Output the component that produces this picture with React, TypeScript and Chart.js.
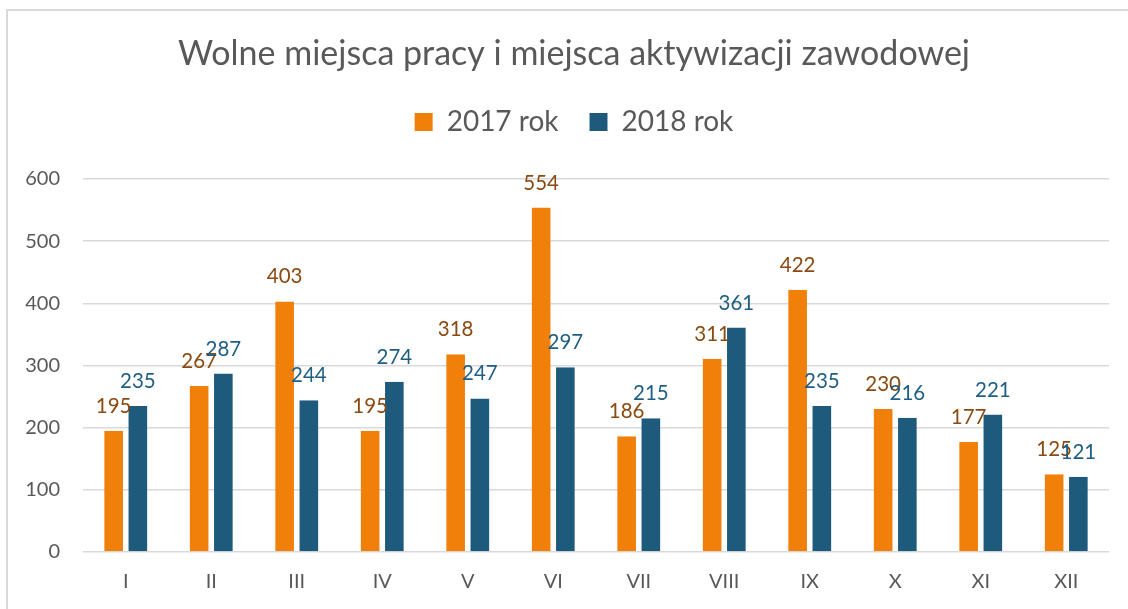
import React, { useEffect, useRef } from "react";
import { Chart, registerables } from "chart.js";

Chart.register(...registerables);

const categories = ["I", "II", "III", "IV", "V", "VI", "VII", "VIII", "IX", "X", "XI", "XII"];
const seriesNames = ["2017 rok", "2018 rok"];
const values2017 = [195, 267, 403, 195, 318, 554, 186, 311, 422, 230, 177, 125];
const values2018 = [235, 287, 244, 274, 247, 297, 215, 361, 235, 216, 221, 121];
const yTicks = [0, 100, 200, 300, 400, 500, 600];
const titleText = "Wolne miejsca pracy i miejsca aktywizacji zawodowej";

const barColors = ["#F0800A", "#1E5A7C"];
const labelColors = ["#8A4A10", "#1F5E84"];
const textColor = "#595959";
const FONT = "Lato, 'Open Sans', sans-serif";

const labelPlugin = {
  id: "barValueLabels",
  afterDatasetsDraw(chart: any) {
    const ctx = chart.ctx;
    chart.data.datasets.forEach((ds: any, i: number) => {
      const meta = chart.getDatasetMeta(i);
      meta.data.forEach((el: any, j: number) => {
        ctx.save();
        ctx.font = `20.5px ${FONT}`;
        ctx.fillStyle = labelColors[i];
        ctx.textAlign = "center";
        ctx.textBaseline = "alphabetic";
        ctx.fillText(String(ds.data[j]), el.x, el.y - 18);
        ctx.restore();
      });
    });
  },
};

export default function App() {
  const canvasRef = useRef<HTMLCanvasElement | null>(null);

  useEffect(() => {
    if (!canvasRef.current) return;
    const gapBorder = { left: 2.8, right: 2.8, top: 0, bottom: 0 };
    const chart = new Chart(canvasRef.current, {
      type: "bar",
      data: {
        labels: categories,
        datasets: [
          {
            label: seriesNames[0],
            data: values2017,
            backgroundColor: barColors[0],
            borderColor: "rgba(0,0,0,0)",
            borderWidth: gapBorder,
            borderSkipped: false,
            categoryPercentage: 0.566,
            barPercentage: 1,
          },
          {
            label: seriesNames[1],
            data: values2018,
            backgroundColor: barColors[1],
            borderColor: "rgba(0,0,0,0)",
            borderWidth: gapBorder,
            borderSkipped: false,
            categoryPercentage: 0.566,
            barPercentage: 1,
          },
        ],
      },
      options: {
        responsive: false,
        animation: false,
        devicePixelRatio: 1,
        layout: { padding: { left: 20, right: 0, top: 0, bottom: 0 } },
        plugins: {
          title: {
            display: true,
            text: titleText,
            color: textColor,
            font: { family: FONT, size: 34, weight: "normal", lineHeight: 1.2 },
            padding: { top: 33.6, bottom: 2.6 },
          },
          legend: {
            display: true,
            position: "top",
            labels: {
              boxWidth: 18,
              boxHeight: 18,
              padding: 31,
              color: textColor,
              font: { family: FONT, size: 28 },
            },
          },
          subtitle: {
            display: true,
            text: "",
            weight: 500,
            font: { size: 1, lineHeight: 1 },
            padding: { top: 0, bottom: 32 },
          },
          tooltip: { enabled: false },
        },
        scales: {
          x: {
            grid: { display: false, drawTicks: false },
            border: { display: false },
            ticks: {
              color: textColor,
              font: { family: FONT, size: 20 },
              padding: 18,
            },
            afterFit(scale: any) {
              scale.height = 57;
            },
          },
          y: {
            min: 0,
            max: 600,
            grid: { color: "#D9D9D9", lineWidth: 1.5, drawTicks: false },
            border: { display: false },
            afterBuildTicks(scale: any) {
              scale.ticks = yTicks.map((v) => ({ value: v }));
            },
            ticks: {
              color: textColor,
              font: { family: FONT, size: 20 },
              padding: 23,
            },
            afterFit(scale: any) {
              scale.width = 63;
            },
          },
          ySpacer: {
            position: "right",
            display: true,
            min: 0,
            max: 600,
            grid: { display: false, drawTicks: false },
            border: { display: false },
            ticks: { display: false },
            afterFit(scale: any) {
              scale.width = 19;
            },
          },
        },
      },
      plugins: [labelPlugin],
    } as any);
    return () => chart.destroy();
  }, []);

  return (
    <div
      style={{
        position: "fixed",
        left: 0,
        top: 0,
        width: 1128,
        height: 609,
        overflow: "hidden",
        background: "#ffffff",
      }}
    >
      <div
        style={{
          position: "absolute",
          left: 6,
          top: 9,
          width: 1400,
          height: 900,
          border: "2px solid #D9D9D9",
          boxSizing: "border-box",
        }}
      />
      <canvas
        ref={canvasRef}
        width={1128}
        height={609}
        style={{ position: "absolute", left: 0, top: 0, width: 1128, height: 609 }}
      />
    </div>
  );
}
